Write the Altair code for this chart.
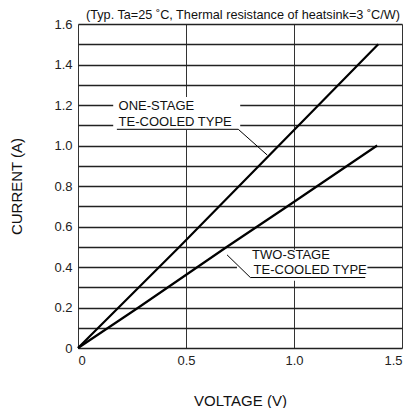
import altair as alt
import pandas as pd

# --- data ---
one_v = [0.0, 0.47, 0.93, 1.39]
one_i = [0.0, 0.50, 1.00, 1.50]
two_v = [0.0, 0.28, 0.69, 0.97, 1.385]
two_i = [0.0, 0.20, 0.50, 0.70, 1.00]

x_ticks = [0, 0.5, 1.0, 1.5]
y_ticks = [round(i * 0.1, 1) for i in range(17)]

title_text = ["(Typ. Ta=25 ˚C, Thermal resistance of heatsink=3 ˚C/W)"]

ann_text = ["ONE-STAGE", "TE-COOLED TYPE", "TWO-STAGE", "TE-COOLED TYPE"]
ann_x = [0.188, 0.188, 0.806, 0.813]
ann_y = [1.195, 1.116, 0.460, 0.383]

# white boxes behind the annotation texts (hide grid lines)
box_x = [0.163, 0.736]
box_x2 = [0.751, 1.34]
box_y = [1.077, 0.332]
box_y2 = [1.24, 0.485]

# leader lines
lead1_v = [0.18, 0.742, 0.876]
lead1_i = [1.08, 1.08, 0.953]
lead2_v = [1.33, 0.798, 0.69]
lead2_i = [0.348, 0.348, 0.46]

FONT = "Liberation Sans"

curves = pd.DataFrame(
    {"V": one_v + two_v,
     "I": one_i + two_i,
     "s": ["one"] * len(one_v) + ["two"] * len(two_v),
     "o": list(range(len(one_v))) + list(range(len(two_v)))}
)
leads = pd.DataFrame(
    {"V": lead1_v + lead2_v,
     "I": lead1_i + lead2_i,
     "s": ["a"] * 3 + ["b"] * 3,
     "o": [0, 1, 2, 0, 1, 2]}
)
texts = pd.DataFrame({"t": ann_text, "V": ann_x, "I": ann_y})
boxes = pd.DataFrame({"x": box_x, "x2": box_x2, "y": box_y, "y2": box_y2})
titles = pd.DataFrame({"t": title_text})

xscale = alt.Scale(domain=[0, 1.5], nice=False)
yscale = alt.Scale(domain=[0, 1.6], nice=False)

xaxis = alt.Axis(
    values=x_ticks,
    labelExpr="datum.value == 0 ? '0' : format(datum.value, '.1f')",
    title="VOLTAGE (V)",
    titleFontSize=15, titleFontWeight="normal", titleFont=FONT, titleColor="#111",
    titleY=57, titleBaseline="alphabetic",
    labelFontSize=13, labelFont=FONT, labelPadding=6, labelColor="#222",
    ticks=False, domain=False,
    grid=True, gridColor="#333", gridWidth=1,
)
yaxis = alt.Axis(
    values=y_ticks,
    labelExpr="round(datum.value*10) % 2 == 0 ? (datum.value == 0 ? '0' : format(datum.value, '.1f')) : ''",
    title="CURRENT (A)",
    titleFontSize=15, titleFontWeight="normal", titleFont=FONT, titleColor="#111",
    titleAngle=270, titleX=-57, titleY=162, titleAlign="center",
    titleBaseline="alphabetic",
    labelFontSize=13, labelFont=FONT, labelPadding=6, labelColor="#222",
    ticks=False, domain=False,
    grid=True, gridColor="#222", gridWidth=1.3,
)

base_x = alt.X("V:Q", scale=xscale, axis=xaxis)
base_y = alt.Y("I:Q", scale=yscale, axis=yaxis)

box_layer = alt.Chart(boxes).mark_rect(color="white").encode(
    x=alt.X("x:Q", scale=xscale, axis=xaxis),
    x2="x2:Q",
    y=alt.Y("y:Q", scale=yscale, axis=yaxis),
    y2="y2:Q",
)

curve_layer = alt.Chart(curves).mark_line(color="black", strokeWidth=2.2).encode(
    x=base_x, y=base_y, detail="s:N", order="o:Q"
)

lead_layer = alt.Chart(leads).mark_line(color="black", strokeWidth=1).encode(
    x=base_x, y=base_y, detail="s:N", order="o:Q"
)

text_layer = alt.Chart(texts).mark_text(
    align="left", baseline="middle", fontSize=13, font=FONT, color="#111"
).encode(x=base_x, y=base_y, text="t:N")

title_layer = alt.Chart(titles).mark_text(
    align="right", baseline="alphabetic", fontSize=12.7, font=FONT, color="#111"
).encode(x=alt.value(322), y=alt.value(-5), text="t:N")

chart = alt.layer(box_layer, curve_layer, lead_layer, text_layer, title_layer).properties(
    width=324,
    height=324,
    autosize=alt.AutoSizeParams(type="none"),
    padding={"left": 70, "top": 16, "right": 3, "bottom": 60},
).configure_view(stroke="black", strokeWidth=1.5).configure(background="white")

chart.save("out.html", embed_options={"renderer": "svg", "actions": False})
